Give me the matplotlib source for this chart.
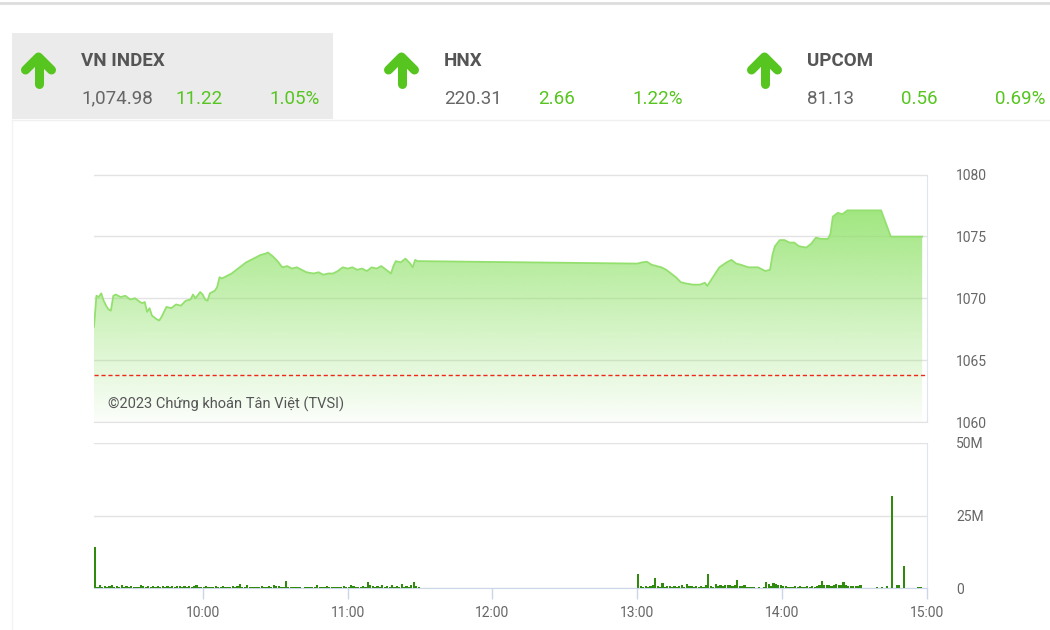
import numpy as np
import matplotlib
matplotlib.use("Agg")
import matplotlib.pyplot as plt
from matplotlib.patches import Rectangle

plt.rcParams['font.family'] = ['Roboto', 'DejaVu Sans']

# header boxes
idx_names = ["VN INDEX", "HNX", "UPCOM"]
idx_last = ["1,074.98", "220.31", "81.13"]
idx_chg = ["11.22", "2.66", "0.56"]
idx_pct = ["1.05%", "1.22%", "0.69%"]

# VN-Index intraday (time, value)
line_times = ["09:15", "09:16", "09:17", "09:18", "09:19", "09:20", "09:21", "09:22", "09:23", "09:24",
              "09:26", "09:28", "09:30", "09:32", "09:34", "09:35", "09:36", "09:37", "09:38", "09:39",
              "09:41", "09:42", "09:43", "09:44", "09:45", "09:47", "09:49", "09:51", "09:53", "09:55",
              "09:56", "09:57", "09:59", "10:00", "10:01", "10:02", "10:03", "10:05", "10:06", "10:07",
              "10:08", "10:10", "10:12", "10:14", "10:16", "10:18", "10:20", "10:22", "10:24", "10:26",
              "10:27", "10:29", "10:31", "10:33", "10:35", "10:37", "10:39", "10:41", "10:43", "10:46",
              "10:48", "10:50", "10:52", "10:54", "10:56", "10:58", "11:00", "11:02", "11:04", "11:06",
              "11:08", "11:10", "11:12", "11:14", "11:16", "11:18", "11:19", "11:20", "11:22", "11:24",
              "11:26", "11:27", "11:28", "11:29",
              "13:00", "13:02", "13:04", "13:06", "13:08", "13:10", "13:12", "13:14", "13:16", "13:18",
              "13:20", "13:23", "13:26", "13:28", "13:29", "13:31", "13:34", "13:37", "13:39", "13:41",
              "13:43", "13:46", "13:50", "13:53", "13:55", "13:56", "13:57", "13:59", "14:01", "14:03",
              "14:05", "14:07", "14:10", "14:12", "14:14", "14:16", "14:19", "14:20", "14:21", "14:23",
              "14:25", "14:27", "14:41", "14:45", "14:58"]
line_vals = [1067.7, 1070.2, 1070.1, 1070.4, 1069.8, 1069.4, 1069.1, 1069.0, 1070.2, 1070.3,
             1070.1, 1070.2, 1069.9, 1070.0, 1069.7, 1069.6, 1069.7, 1068.9, 1069.2, 1068.6,
             1068.3, 1068.2, 1068.5, 1068.9, 1069.3, 1069.2, 1069.5, 1069.4, 1069.8, 1069.9,
             1070.3, 1070.0, 1070.5, 1070.3, 1069.9, 1069.8, 1070.4, 1070.6, 1070.9, 1071.7,
             1071.6, 1071.8, 1072.0, 1072.3, 1072.6, 1072.9, 1073.1, 1073.3, 1073.5, 1073.6,
             1073.7, 1073.4, 1073.0, 1072.5, 1072.6, 1072.4, 1072.5, 1072.3, 1072.1, 1072.0,
             1072.1, 1071.9, 1072.0, 1072.0, 1072.2, 1072.5, 1072.4, 1072.5, 1072.3, 1072.4,
             1072.2, 1072.5, 1072.4, 1072.6, 1072.3, 1072.0, 1072.6, 1073.0, 1072.9, 1073.2,
             1072.8, 1072.5, 1073.1, 1073.0,
             1072.8, 1072.9, 1072.95, 1072.7, 1072.6, 1072.5, 1072.3, 1072.0, 1071.7, 1071.3,
             1071.2, 1071.1, 1071.1, 1071.25, 1071.0, 1071.6, 1072.5, 1072.9, 1073.1, 1072.8,
             1072.7, 1072.5, 1072.5, 1072.2, 1072.3, 1073.5, 1074.2, 1074.7, 1074.7, 1074.5,
             1074.5, 1074.2, 1074.1, 1074.4, 1074.9, 1074.8, 1074.8, 1075.2, 1076.6, 1076.9,
             1076.8, 1077.1, 1077.1, 1074.98, 1074.98]
ref_level = 1063.76

# volume in millions, one value per minute
vol_am_start = "09:15"
vol_am = [14.0, 0.4, 1.2, 0.5, 0.8, 0.3, 0.6, 1.0, 0.4, 0.7, 0.5, 1.1, 0.3, 0.6, 0.5,
          0.7, 0.4, 0.3, 0.5, 0.9, 0.6, 0.4, 0.8, 0.5, 0.7, 0.4, 0.6, 0.5, 0.8, 0.4,
          0.6, 0.5, 0.7, 0.4, 0.6, 0.8, 0.5, 0.6, 0.4, 0.7, 0.5, 0.6, 1.0, 0.4, 0.5,
          0.3, 0.6, 0.4, 0.2, 0.5, 0.8, 0.3, 0.2, 0.6, 0.4, 0.3, 0.5, 0.7, 0.4, 0.6,
          1.3, 0.4, 0.3, 0.9, 0.2, 0.3, 0.5, 0.3, 0.2, 0.6, 0.3, 0.4, 0.7, 0.5, 0.9,
          0.6, 0.8, 0.4, 0.5, 2.3, 0.3, 0.2, 0.3, 0.2, 0.3, 0.2, 0.1, 0.2, 0.3, 0.2,
          0.3, 0.2, 0.9, 0.3, 0.2, 0.4, 0.7, 0.3, 0.2, 0.3, 0.5, 0.4, 0.3, 0.6, 0.3,
          0.5, 1.2, 0.6, 0.4, 0.4, 0.3, 0.8, 0.5, 2.1, 0.9, 0.6, 0.3, 0.8, 0.5, 1.0,
          0.4, 0.7, 0.5, 1.2, 0.4, 0.6, 0.3, 1.4, 0.5, 0.7, 0.4, 0.9, 2.0, 0.8, 0.3]
vol_pm_start = "13:00"
vol_pm = [4.7, 0.6, 0.4, 0.8, 0.5, 0.7, 1.0, 3.4, 0.6, 0.5, 1.6, 0.4, 0.6, 0.8, 0.5,
          0.7, 0.4, 0.6, 0.9, 0.5, 1.3, 0.6, 0.8, 0.5, 0.7, 0.4, 0.6, 0.5, 0.9, 4.7,
          0.8, 0.5, 1.4, 0.6, 1.0, 0.8, 1.1, 0.9, 1.2, 0.7, 0.9, 2.8, 0.6, 0.8, 1.2,
          0.5, 0.3, 0.2, 0.2, 0.1, 0.2, 0.1, 0.2, 2.1, 1.5, 0.6, 1.7, 1.4, 0.9, 1.2,
          0.6, 0.8, 0.4, 0.5, 0.3, 0.6, 0.4, 0.7, 0.5, 0.4, 0.6, 0.5, 0.8, 0.4, 0.7,
          0.9, 2.4, 1.0, 0.9, 1.2, 0.8, 1.0, 1.4, 0.9, 1.1, 2.0, 1.0, 0.8, 0.7, 0.6]
vol_late_times = ["14:30", "14:31", "14:32", "14:39", "14:41", "14:43", "14:45", "14:47", "14:48",
                  "14:50", "14:56", "14:57"]
vol_late = [0.8, 0.6, 1.0, 0.4, 0.5, 0.6, 31.7, 0.9, 1.2, 7.6, 0.5, 0.4]

hour_ticks = ["10:00", "11:00", "12:00", "13:00", "14:00", "15:00"]
price_ticks = [1060, 1065, 1070, 1075, 1080]
vol_ticks = [0, 25, 50]
vol_tick_labels = ["0", "25M", "50M"]


def to_min(s):
    h, m = s.split(":")
    return int(h) * 60 + int(m)


GREEN = '#56c51f'
GREY_TXT = '#666666'

fig = plt.figure(figsize=(10.5, 6.3), dpi=100)
fig.patch.set_facecolor('white')

# ---- header (pixel coords overlay)
bg = fig.add_axes([0, 0, 1, 1], zorder=0)
bg.set_xlim(0, 1050)
bg.set_ylim(630, 0)
bg.axis('off')
bg.plot([0, 1050], [3, 3], color='#dddddd', lw=2)
bg.add_patch(Rectangle((12, 33), 321, 86, color='#ebebeb', lw=0))
bg.plot([12, 1050], [120, 120], color='#f0f0f0', lw=1)
bg.plot([12, 12], [120, 630], color='#f3f3f3', lw=1)

box_x = [12, 375, 738]
for i in range(3):
    x0 = box_x[i]
    ax_c = x0 + 26.5
    bg.plot([ax_c, ax_c], [60, 84], color=GREEN, lw=6.5, solid_capstyle='round')
    bg.plot([ax_c - 13, ax_c, ax_c + 13], [70, 57, 70], color=GREEN, lw=6.5,
            solid_capstyle='round', solid_joinstyle='round')
    tx = x0 + 69
    bg.text(tx, 66, idx_names[i], fontsize=13.5, fontweight='bold', color='#555555',
            ha='left', va='baseline')
    bg.text(tx, 103.5, idx_last[i], fontsize=13.5, color=GREY_TXT, ha='left', va='baseline')
    bg.text(tx + 94, 103.5, idx_chg[i], fontsize=13.5, color=GREEN, ha='left', va='baseline')
    bg.text(tx + 188, 103.5, idx_pct[i], fontsize=13.5, color=GREEN, ha='left', va='baseline')

# ---- price chart
ax = fig.add_axes([94 / 1050, 1 - 422 / 630, 833 / 1050, 247.5 / 630], zorder=1)
ax.set_facecolor('none')
xs = np.array([to_min(t) for t in line_times])
ys = np.array(line_vals)
x_lo, x_hi = to_min("09:15"), to_min("15:00")
ax.set_xlim(x_lo, x_hi)
ax.set_ylim(1060, 1080)

alpha = np.linspace(0.03, 0.95, 256)
grad = np.zeros((256, 1, 4))
grad[..., 0] = 140 / 255
grad[..., 1] = 225 / 255
grad[..., 2] = 100 / 255
grad[..., 3] = alpha[:, None]
im = ax.imshow(grad, extent=[x_lo, x_hi, 1060, 1080], origin='lower', aspect='auto',
               zorder=1, interpolation='bilinear')
poly = ax.fill_between(xs, ys, 1060, color='none', lw=0)
im.set_clip_path(poly.get_paths()[0], transform=ax.transData)
ax.plot(xs, ys, color='#94e06f', lw=1.3, zorder=3)
ax.axhline(ref_level, color='#f0281a', lw=1.0, dashes=(3, 2), zorder=4)

ax.set_yticks(price_ticks)
ax.grid(axis='y', color='#e3e3e3', lw=1)
ax.set_axisbelow(True)
ax.set_xticks([])
ax.yaxis.tick_right()
ax.tick_params(axis='y', length=0, pad=21, labelsize=10, labelcolor=GREY_TXT)
for s in ['top', 'left']:
    ax.spines[s].set_visible(False)
ax.spines['bottom'].set_color('#e3e3e3')
ax.spines['right'].set_color('#dfe5ec')
ax.text(0.017, 0.04, "©2023 Chứng khoán Tân Việt (TVSI)", transform=ax.transAxes,
        fontsize=10.5, color='#555555', ha='left', va='bottom', zorder=5)

# ---- volume chart
av = fig.add_axes([94 / 1050, 1 - 588 / 630, 833 / 1050, 145 / 630], zorder=1)
av.set_facecolor('none')
am_x = to_min(vol_am_start) + np.arange(len(vol_am))
pm_x = to_min(vol_pm_start) + np.arange(len(vol_pm))
late_x = np.array([to_min(t) for t in vol_late_times])
vx = np.concatenate([am_x, pm_x, late_x])
vy = np.concatenate([vol_am, vol_pm, vol_late])
av.bar(vx, vy, width=0.9, align='edge', color='#2f8a0e', lw=0, zorder=3)
av.set_xlim(x_lo, x_hi)
av.set_ylim(0, 50)
av.set_yticks(vol_ticks)
av.set_yticklabels(vol_tick_labels)
av.grid(axis='y', color='#e3e3e3', lw=1)
av.set_axisbelow(True)
av.yaxis.tick_right()
av.tick_params(axis='y', length=0, pad=21, labelsize=10, labelcolor=GREY_TXT)
av.set_xticks([to_min(t) for t in hour_ticks])
av.set_xticklabels(hour_ticks)
av.tick_params(axis='x', length=8, width=1, color='#ccd6eb', pad=5, labelsize=10,
               labelcolor=GREY_TXT)
for s in ['top', 'left']:
    av.spines[s].set_visible(False)
av.spines['right'].set_color('#dfe5ec')
av.spines['bottom'].set_color('#ccd6eb')

fig.savefig("out.png", dpi=100)
